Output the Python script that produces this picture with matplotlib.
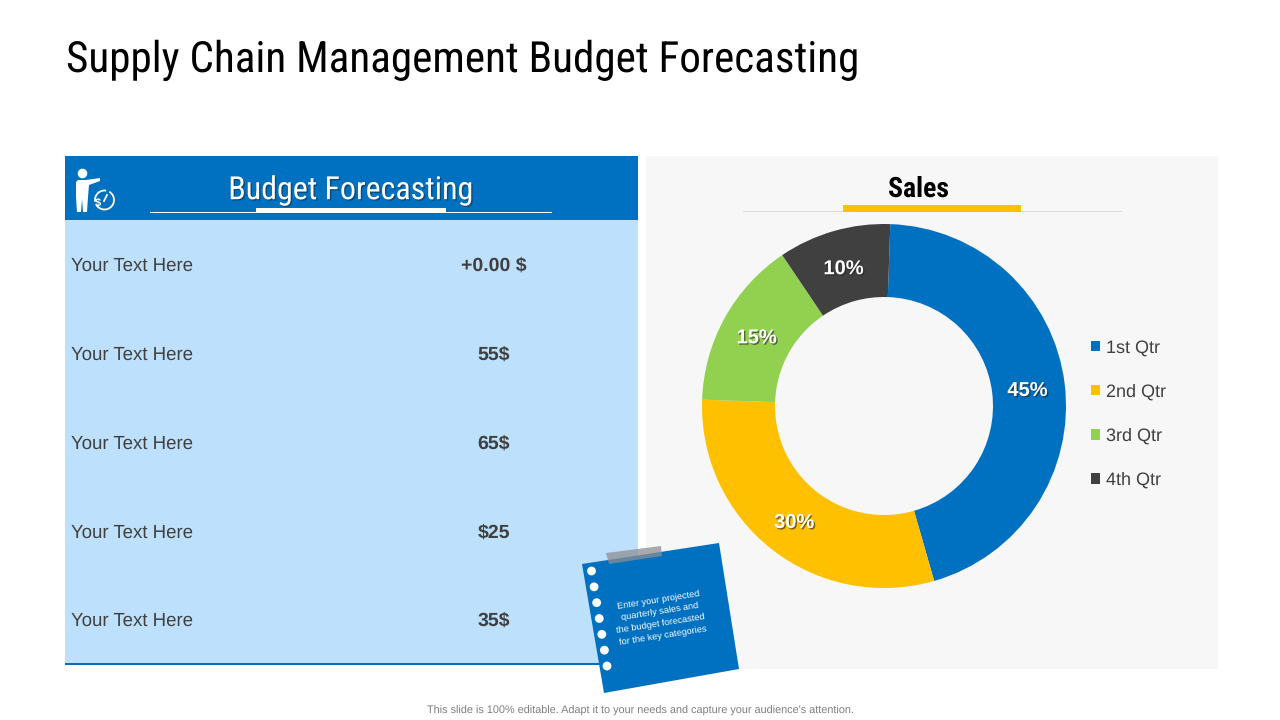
import numpy as np
import matplotlib
matplotlib.use('Agg')
import matplotlib.pyplot as plt
from matplotlib.patches import Rectangle, Polygon, Circle, Arc
import matplotlib.patheffects as pe

title = 'Supply Chain Management Budget Forecasting'
table_title = 'Budget Forecasting'
row_labels = ['Your Text Here'] * 5
row_values = ['+0.00 $', '55$', '65$', '$25', '35$']

chart_title = 'Sales'
quarters = ['1st Qtr', '2nd Qtr', '3rd Qtr', '4th Qtr']
sales = [45, 30, 15, 10]
colors = ['#0070C0', '#FFC000', '#92D050', '#404040']

note_lines = ['Enter your projected', 'quarterly sales and',
              'the budget forecasted', 'for the key categories']
footer = "This slide is 100% editable. Adapt it to your needs and capture your audience's attention."

NARROW = ['Roboto Condensed', 'Archivo Narrow', 'Liberation Sans']
SANS = 'Liberation Sans'
BLUE = '#0070C0'

plt.rcParams['text.hinting'] = 'none'

fig = plt.figure(figsize=(12.8, 7.2), dpi=100, facecolor='white')

# background axes in pixel coords, y going down
bg = fig.add_axes([0, 0, 1, 1])
bg.set_xlim(0, 1280)
bg.set_ylim(720, 0)
bg.axis('off')


def rect(x0, y0, x1, y1, color, **kw):
    bg.add_patch(Rectangle((x0, y0), x1 - x0, y1 - y0, fc=color, ec='none', **kw))


bg.text(66, 60.5, title, family=NARROW, fontsize=31.1, color='black', va='center', ha='left')

# left table
rect(65, 220, 638, 664, '#BDE1FD')
rect(65, 156, 638, 220, BLUE)
rect(65, 662.5, 638, 664.5, '#0A6DB5')
rect(150, 211.5, 552, 212.5, 'white')
rect(256, 208, 446, 213, 'white')
bg.text(351, 190.5, table_title, family=NARROW, fontsize=23, color='white', ha='center', va='center',
        path_effects=[pe.withSimplePatchShadow(offset=(1, -1), shadow_rgbFace='#123a5c', alpha=0.7)])

# person + clock icon
bg.add_patch(Circle((82.5, 173.5), 4.8, fc='white', ec='none'))
bg.add_patch(Polygon([(76, 182), (78, 180), (86, 180), (100, 178), (100, 181), (89, 185), (88, 197),
                      (87, 212), (83, 212), (82, 199), (81, 212), (77, 212), (76, 197)],
                     fc='white', ec='none'))
bg.add_patch(Arc((104.5, 200), 19, 19, theta1=-60, theta2=150, ec='white', lw=1.3))
bg.add_patch(Arc((104.5, 200), 19, 19, theta1=170, theta2=280, ec='white', lw=1.3))
bg.plot([104, 107], [201, 195], color='white', lw=1.3)
bg.text(98, 202, '$', family=SANS, fontsize=8, color='white', ha='center', va='center', weight='bold')

for label, value, y in zip(row_labels, row_values, [266, 355, 444, 533, 621]):
    bg.text(71, y, label, family=SANS, fontsize=13.4, color='#404040', va='center', ha='left')
    bg.text(494, y, value, family=SANS, fontsize=14, color='#404040', va='center', ha='center', weight='bold')

# right panel
rect(646, 156, 1218, 669, '#F7F7F7')
rect(743, 211, 1122, 212, '#D9D9D9')
rect(843, 205, 1021, 211.5, '#FFC000')
bg.text(918, 189, chart_title, family=NARROW, fontsize=20, weight='bold', color='black', ha='center', va='center')

# donut
cx, cy, r = 884, 406, 182
ax = fig.add_axes([(cx - r) / 1280, (720 - cy - r) / 720, 2 * r / 1280, 2 * r / 720])
wedges, _, pct = ax.pie(sales, colors=colors, startangle=88.0, counterclock=False, radius=1,
                        wedgeprops={'width': 73 / 182, 'linewidth': 0},
                        autopct='%d%%', pctdistance=0.797)
ax.set_xlim(-1, 1)
ax.set_ylim(-1, 1)
for t in pct:
    px, py = t.get_position()
    t.set_position((px - 0.5 / r, py - 2.5 / r))
    t.set(family=SANS, fontsize=14.5, weight='bold', color='white')
    t.set_path_effects([pe.withSimplePatchShadow(offset=(1, -1), shadow_rgbFace='#222222', alpha=0.6)])

leg = fig.legend(wedges, quarters, loc='center left', bbox_to_anchor=(1091 / 1280, (720 - 414) / 720),
                 frameon=False, prop={'family': SANS, 'size': 13}, labelcolor='#404040',
                 handlelength=0.52, handleheight=0.52, handletextpad=0.33, labelspacing=1.52,
                 borderpad=0, borderaxespad=0)

# sticky note, drawn over both panels
note_ax = fig.add_axes([0, 0, 1, 1], zorder=5)
note_ax.set_xlim(0, 1280)
note_ax.set_ylim(720, 0)
note_ax.axis('off')
note_ax.add_patch(Polygon([(582, 564), (719, 543), (739, 669), (604, 693)], fc=BLUE, ec='none'))
note_ax.add_patch(Polygon([(606, 553), (661, 546), (662, 556), (609, 564)], fc='#8C8F94', ec='none', alpha=0.75))
for x, y in zip(np.linspace(591.5, 607, 7), np.linspace(571, 666, 7)):
    note_ax.add_patch(Circle((x, y), 4.4, fc='white', ec='none'))
for line, x, y in zip(note_lines, [658, 660, 661, 663], [600, 612, 624, 636]):
    note_ax.text(x, y, line, family=SANS, fontsize=6.7, color='white', ha='center', va='center',
                 rotation=9, rotation_mode='anchor')

bg.text(640, 711, footer, family=SANS, fontsize=7.8, color='#7F7F7F', ha='center', va='center')

fig.savefig('out.png', dpi=100)
